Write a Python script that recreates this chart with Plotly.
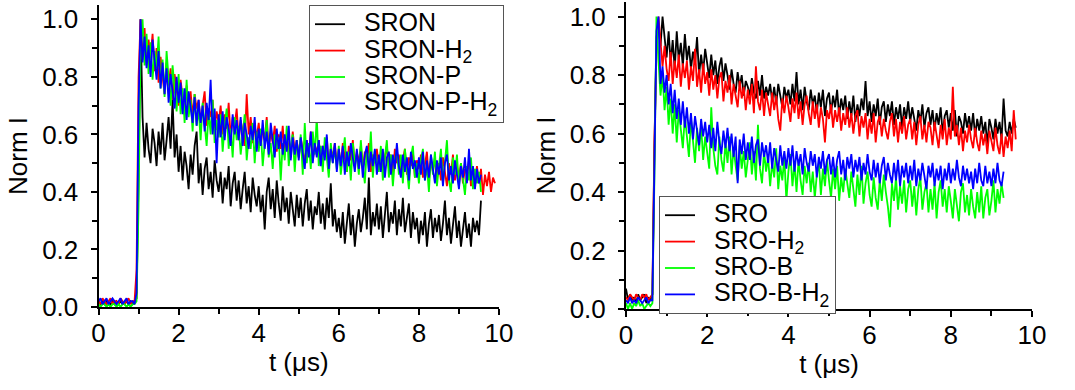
import plotly.graph_objects as go

# ---------------- data (sampled every DT microseconds, starting at t = 0) ----------------
DT = 0.05

sron = [0.02, 0.01, 0.02, 0.01, 0.02, 0.01, 0.01, 0.02, 0.01, 0.02, 0.01, 0.02, 0.01, 0.01, 0.02, 0.01, 0.02, 0.01, 0.02, 0.03,
        0.45, 1.00, 0.66, 0.52, 0.64, 0.55, 0.50, 0.62, 0.57, 0.49,
        0.61, 0.53, 0.64, 0.51, 0.58, 0.66, 0.55, 0.72, 0.52, 0.60,
        0.47, 0.56, 0.44, 0.54, 0.49, 0.41, 0.53, 0.46, 0.56, 0.61,
        0.43, 0.50, 0.39, 0.48, 0.52, 0.41, 0.47, 0.38, 0.51, 0.44,
        0.40, 0.47, 0.36, 0.45, 0.41, 0.49, 0.35, 0.43, 0.47, 0.37,
        0.44, 0.34, 0.41, 0.47, 0.36, 0.42, 0.33, 0.45, 0.39, 0.35,
        0.42, 0.33, 0.39, 0.27, 0.40, 0.45, 0.34, 0.41, 0.31, 0.44,
        0.36, 0.30, 0.42, 0.33, 0.38, 0.29, 0.40, 0.34, 0.28, 0.39,
        0.31, 0.38, 0.28, 0.36, 0.41, 0.30, 0.37, 0.27, 0.35, 0.32,
        0.40, 0.29, 0.36, 0.27, 0.38, 0.31, 0.43, 0.28, 0.34, 0.26,
        0.31, 0.24, 0.33, 0.22, 0.30, 0.36, 0.25, 0.32, 0.21, 0.29,
        0.34, 0.26, 0.31, 0.38, 0.27, 0.45, 0.25, 0.33, 0.28, 0.36,
        0.27, 0.35, 0.24, 0.32, 0.40, 0.26, 0.33, 0.29, 0.37, 0.25,
        0.34, 0.28, 0.38, 0.26, 0.32, 0.36, 0.24, 0.33, 0.27, 0.31,
        0.22, 0.30, 0.25, 0.33, 0.21, 0.29, 0.34, 0.24, 0.31, 0.26,
        0.32, 0.23, 0.29, 0.37, 0.25, 0.31, 0.22, 0.28, 0.35, 0.24,
        0.30, 0.21, 0.28, 0.33, 0.24, 0.29, 0.21, 0.31, 0.26, 0.30,
        0.25, 0.37]

sron_h2 = [0.02, 0.01, 0.03, 0.02, 0.01, 0.02, 0.03, 0.01, 0.02, 0.02, 0.01, 0.03, 0.02, 0.01, 0.02, 0.03, 0.01, 0.02, 0.02, 0.13,
           0.80, 1.00, 0.86, 0.97, 0.84, 0.93, 0.87, 0.95, 0.82, 0.90,
           0.78, 0.87, 0.80, 0.74, 0.85, 0.77, 0.83, 0.72, 0.81, 0.76,
           0.70, 0.79, 0.73, 0.67, 0.77, 0.70, 0.75, 0.66, 0.74, 0.69,
           0.72, 0.64, 0.70, 0.75, 0.63, 0.69, 0.66, 0.72, 0.62, 0.68,
           0.64, 0.70, 0.60, 0.67, 0.62, 0.71, 0.59, 0.66, 0.63, 0.69,
           0.58, 0.65, 0.61, 0.56, 0.74, 0.60, 0.66, 0.57, 0.63, 0.59,
           0.64, 0.56, 0.62, 0.58, 0.66, 0.55, 0.61, 0.57, 0.63, 0.54,
           0.60, 0.55, 0.63, 0.53, 0.59, 0.56, 0.52, 0.61, 0.54, 0.58,
           0.52, 0.59, 0.55, 0.50, 0.58, 0.53, 0.61, 0.51, 0.56, 0.54,
           0.58, 0.51, 0.56, 0.53, 0.59, 0.49, 0.55, 0.52, 0.57, 0.50,
           0.55, 0.49, 0.57, 0.52, 0.47, 0.56, 0.51, 0.58, 0.49, 0.54,
           0.50, 0.56, 0.48, 0.54, 0.51, 0.57, 0.47, 0.53, 0.50, 0.55,
           0.49, 0.54, 0.47, 0.52, 0.56, 0.48, 0.53, 0.46, 0.55, 0.50,
           0.53, 0.47, 0.51, 0.55, 0.46, 0.52, 0.49, 0.54, 0.45, 0.51,
           0.48, 0.53, 0.45, 0.50, 0.54, 0.44, 0.51, 0.47, 0.52, 0.45,
           0.50, 0.44, 0.52, 0.47, 0.42, 0.50, 0.46, 0.53, 0.44, 0.49,
           0.45, 0.50, 0.43, 0.48, 0.46, 0.51, 0.42, 0.47, 0.44, 0.49,
           0.43, 0.48, 0.39, 0.46, 0.42, 0.47, 0.40, 0.45, 0.43]

sron_p = [0.01, 0.00, 0.01, 0.01, 0.00, 0.01, 0.00, 0.01, 0.01, 0.00, 0.01, 0.00, 0.01, 0.01, 0.00, 0.01, 0.00, 0.01, 0.01, 0.02,
          0.35, 0.90, 1.00, 0.84, 0.95, 0.81, 0.92, 0.79, 0.89, 0.83,
          0.94, 0.76, 0.86, 0.73, 0.89, 0.78, 0.70, 0.84, 0.75, 0.68,
          0.81, 0.67, 0.76, 0.64, 0.79, 0.66, 0.72, 0.61, 0.74, 0.63,
          0.69, 0.58, 0.71, 0.62, 0.56, 0.68, 0.60, 0.72, 0.57, 0.65,
          0.59, 0.67, 0.54, 0.63, 0.69, 0.55, 0.62, 0.52, 0.66, 0.58,
          0.63, 0.53, 0.60, 0.67, 0.51, 0.59, 0.55, 0.64, 0.50, 0.61,
          0.54, 0.62, 0.49, 0.58, 0.65, 0.52, 0.57, 0.48, 0.60, 0.55,
          0.59, 0.44, 0.57, 0.51, 0.63, 0.49, 0.56, 0.60, 0.47, 0.58,
          0.52, 0.60, 0.46, 0.64, 0.50, 0.57, 0.48, 0.61, 0.53, 0.66,
          0.49, 0.56, 0.47, 0.59, 0.51, 0.45, 0.57, 0.50, 0.55, 0.48,
          0.56, 0.46, 0.53, 0.59, 0.47, 0.54, 0.44, 0.57, 0.50, 0.53,
          0.46, 0.58, 0.49, 0.43, 0.55, 0.48, 0.61, 0.45, 0.54, 0.50,
          0.47, 0.56, 0.44, 0.52, 0.58, 0.45, 0.53, 0.42, 0.51, 0.55,
          0.46, 0.53, 0.43, 0.55, 0.48, 0.41, 0.52, 0.56, 0.45, 0.50,
          0.43, 0.51, 0.55, 0.44, 0.49, 0.40, 0.53, 0.46, 0.54, 0.42,
          0.49, 0.55, 0.43, 0.50, 0.58, 0.44, 0.40, 0.52, 0.46, 0.53,
          0.42, 0.50, 0.45, 0.39, 0.49, 0.44, 0.52, 0.41, 0.48, 0.43,
          0.47, 0.40]

sron_p_h2 = [0.02, 0.03, 0.01, 0.02, 0.03, 0.01, 0.02, 0.03, 0.02, 0.01, 0.02, 0.03, 0.01, 0.02, 0.03, 0.01, 0.02, 0.02, 0.01, 0.05,
             0.70, 1.00, 0.85, 0.94, 0.83, 0.91, 0.80, 0.93, 0.86, 0.79,
             0.89, 0.76, 0.85, 0.74, 0.83, 0.71, 0.81, 0.75, 0.69, 0.80,
             0.71, 0.78, 0.67, 0.76, 0.65, 0.75, 0.69, 0.64, 0.73, 0.63,
             0.72, 0.64, 0.70, 0.61, 0.71, 0.65, 0.79, 0.60, 0.69, 0.50,
             0.67, 0.59, 0.68, 0.58, 0.66, 0.62, 0.56, 0.67, 0.60, 0.65,
             0.58, 0.66, 0.56, 0.64, 0.60, 0.55, 0.63, 0.58, 0.66, 0.54,
             0.62, 0.56, 0.65, 0.55, 0.61, 0.53, 0.64, 0.57, 0.52, 0.62,
             0.55, 0.61, 0.53, 0.60, 0.54, 0.63, 0.51, 0.59, 0.53, 0.58,
             0.51, 0.59, 0.54, 0.48, 0.58, 0.52, 0.61, 0.50, 0.57, 0.52,
             0.58, 0.49, 0.56, 0.51, 0.60, 0.48, 0.55, 0.50, 0.57, 0.47,
             0.55, 0.49, 0.56, 0.46, 0.54, 0.49, 0.57, 0.51, 0.47, 0.55,
             0.48, 0.54, 0.45, 0.53, 0.56, 0.47, 0.54, 0.49, 0.55, 0.46,
             0.53, 0.47, 0.55, 0.45, 0.52, 0.54, 0.46, 0.53, 0.48, 0.57,
             0.49, 0.45, 0.53, 0.47, 0.52, 0.44, 0.54, 0.48, 0.51, 0.45,
             0.52, 0.46, 0.54, 0.44, 0.51, 0.45, 0.53, 0.48, 0.43, 0.51,
             0.46, 0.52, 0.42, 0.50, 0.53, 0.44, 0.49, 0.43, 0.51, 0.46,
             0.41, 0.49, 0.45, 0.52, 0.43, 0.55, 0.44, 0.49, 0.41, 0.48,
             0.43, 0.46]

sro = [0.07, 0.03, 0.05, 0.03, 0.04, 0.02, 0.05, 0.03, 0.04, 0.05, 0.02, 0.04, 0.03, 0.05,
       0.55, 0.93, 0.97, 0.90, 1.00, 0.92,
       0.86, 0.95, 0.84, 0.92, 0.82, 0.95, 0.85, 0.91, 0.83, 0.94,
       0.85, 0.90, 0.82, 0.88, 0.84, 0.93, 0.80, 0.87, 0.81, 0.89,
       0.84, 0.79, 0.87, 0.80, 0.85, 0.77, 0.83, 0.86, 0.78, 0.84,
       0.80, 0.75, 0.82, 0.77, 0.74, 0.81, 0.76, 0.80, 0.73, 0.78,
       0.76, 0.73, 0.79, 0.74, 0.72, 0.78, 0.73, 0.80, 0.72, 0.76,
       0.73, 0.77, 0.71, 0.76, 0.70, 0.77, 0.73, 0.69, 0.76, 0.72,
       0.75, 0.70, 0.77, 0.71, 0.81, 0.70, 0.75, 0.68, 0.76, 0.71,
       0.68, 0.75, 0.70, 0.73, 0.67, 0.74, 0.69, 0.75, 0.66, 0.72,
       0.74, 0.67, 0.73, 0.69, 0.75, 0.66, 0.72, 0.68, 0.73, 0.65,
       0.71, 0.66, 0.73, 0.64, 0.70, 0.66, 0.72, 0.68, 0.78, 0.66,
       0.71, 0.64, 0.70, 0.66, 0.72, 0.63, 0.69, 0.71, 0.64, 0.70,
       0.66, 0.71, 0.63, 0.69, 0.65, 0.70, 0.62, 0.69, 0.65, 0.71,
       0.64, 0.69, 0.65, 0.61, 0.68, 0.64, 0.70, 0.62, 0.67, 0.69,
       0.63, 0.68, 0.61, 0.67, 0.63, 0.69, 0.60, 0.66, 0.68, 0.62,
       0.67, 0.61, 0.68, 0.59, 0.66, 0.64, 0.60, 0.67, 0.62, 0.66,
       0.61, 0.67, 0.59, 0.65, 0.61, 0.66, 0.60, 0.64, 0.56, 0.65,
       0.62, 0.58, 0.65, 0.60, 0.64, 0.58, 0.72, 0.61, 0.59, 0.64,
       0.60, 0.65, 0.62]

sro_h2 = [0.04, 0.03, 0.05, 0.04, 0.03, 0.05, 0.04, 0.03, 0.05, 0.04, 0.05, 0.03, 0.04, 0.05,
          0.57, 0.88, 1.00, 0.90, 0.83, 0.90,
          0.82, 0.78, 0.88, 0.77, 0.85, 0.79, 0.87, 0.76, 0.84, 0.79,
          0.85, 0.75, 0.83, 0.78, 0.89, 0.76, 0.82, 0.74, 0.84, 0.77,
          0.81, 0.73, 0.82, 0.75, 0.80, 0.72, 0.79, 0.81, 0.71, 0.78,
          0.74, 0.80, 0.70, 0.77, 0.73, 0.69, 0.78, 0.72, 0.76, 0.68,
          0.75, 0.70, 0.77, 0.67, 0.83, 0.71, 0.68, 0.75, 0.66, 0.74,
          0.70, 0.66, 0.74, 0.68, 0.73, 0.65, 0.61, 0.72, 0.67, 0.73,
          0.69, 0.64, 0.72, 0.67, 0.74, 0.65, 0.71, 0.63, 0.70, 0.73,
          0.67, 0.63, 0.71, 0.65, 0.70, 0.62, 0.69, 0.65, 0.57, 0.68,
          0.65, 0.70, 0.62, 0.68, 0.64, 0.69, 0.61, 0.67, 0.63, 0.69,
          0.62, 0.67, 0.60, 0.66, 0.68, 0.59, 0.66, 0.62, 0.67, 0.58,
          0.65, 0.60, 0.67, 0.57, 0.64, 0.66, 0.59, 0.65, 0.61, 0.58,
          0.64, 0.67, 0.59, 0.65, 0.57, 0.64, 0.60, 0.66, 0.58, 0.63,
          0.65, 0.58, 0.64, 0.56, 0.63, 0.66, 0.58, 0.63, 0.57, 0.64,
          0.62, 0.56, 0.64, 0.59, 0.55, 0.63, 0.58, 0.65, 0.56, 0.62,
          0.58, 0.76, 0.59, 0.63, 0.56, 0.62, 0.54, 0.61, 0.57, 0.63,
          0.58, 0.55, 0.62, 0.57, 0.54, 0.61, 0.56, 0.60, 0.53, 0.61,
          0.57, 0.54, 0.62, 0.56, 0.53, 0.60, 0.52, 0.59, 0.55, 0.61,
          0.54, 0.68, 0.58]

sro_b = [0.02, 0.00, 0.02, 0.00, 0.02, 0.01, 0.03, 0.01, 0.02, 0.00, 0.01, 0.02, 0.01, 0.02,
         0.45, 1.00, 0.85, 0.73, 0.80, 0.68,
         0.76, 0.63, 0.72, 0.60, 0.70, 0.57, 0.68, 0.61, 0.55, 0.66,
         0.60, 0.52, 0.65, 0.56, 0.50, 0.62, 0.54, 0.63, 0.51, 0.59,
         0.54, 0.48, 0.69, 0.55, 0.49, 0.46, 0.59, 0.51, 0.47, 0.57,
         0.50, 0.59, 0.46, 0.55, 0.49, 0.44, 0.56, 0.48, 0.54, 0.45,
         0.51, 0.57, 0.46, 0.54, 0.44, 0.63, 0.48, 0.43, 0.54, 0.47,
         0.52, 0.42, 0.50, 0.45, 0.55, 0.41, 0.49, 0.44, 0.52, 0.37,
         0.47, 0.53, 0.42, 0.50, 0.40, 0.51, 0.44, 0.39, 0.49, 0.43,
         0.50, 0.40, 0.47, 0.38, 0.46, 0.50, 0.39, 0.48, 0.42, 0.51,
         0.44, 0.38, 0.48, 0.41, 0.49, 0.37, 0.45, 0.40, 0.48, 0.42,
         0.38, 0.47, 0.40, 0.35, 0.46, 0.39, 0.49, 0.36, 0.43, 0.47,
         0.39, 0.35, 0.45, 0.38, 0.34, 0.44, 0.37, 0.46, 0.40, 0.35,
         0.28, 0.43, 0.37, 0.45, 0.34, 0.42, 0.36, 0.44, 0.33, 0.41,
         0.44, 0.35, 0.42, 0.32, 0.41, 0.45, 0.34, 0.40, 0.43, 0.33,
         0.41, 0.34, 0.43, 0.31, 0.40, 0.44, 0.35, 0.41, 0.33, 0.42,
         0.37, 0.31, 0.41, 0.35, 0.30, 0.40, 0.43, 0.33, 0.39, 0.32,
         0.41, 0.35, 0.31, 0.40, 0.33, 0.42, 0.31, 0.38, 0.41, 0.32,
         0.37, 0.44, 0.33, 0.41, 0.36, 0.43, 0.38]

sro_b_h2 = [0.03, 0.02, 0.04, 0.02, 0.03, 0.02, 0.04, 0.03, 0.02, 0.03, 0.04, 0.02, 0.03, 0.03,
            0.50, 0.95, 1.00, 0.77, 0.83, 0.74,
            0.80, 0.70, 0.77, 0.67, 0.75, 0.65, 0.72, 0.63, 0.71, 0.62,
            0.69, 0.60, 0.67, 0.58, 0.66, 0.60, 0.56, 0.65, 0.59, 0.64,
            0.57, 0.63, 0.55, 0.62, 0.54, 0.64, 0.57, 0.53, 0.61, 0.55,
            0.62, 0.54, 0.60, 0.52, 0.59, 0.43, 0.58, 0.53, 0.60, 0.51,
            0.57, 0.51, 0.59, 0.50, 0.56, 0.58, 0.49, 0.57, 0.52, 0.56,
            0.50, 0.57, 0.48, 0.55, 0.51, 0.47, 0.56, 0.49, 0.54, 0.48,
            0.55, 0.49, 0.56, 0.47, 0.54, 0.49, 0.53, 0.46, 0.55, 0.50,
            0.47, 0.54, 0.49, 0.53, 0.45, 0.52, 0.48, 0.54, 0.46, 0.51,
            0.53, 0.46, 0.52, 0.45, 0.51, 0.54, 0.46, 0.51, 0.44, 0.52,
            0.48, 0.53, 0.45, 0.51, 0.47, 0.52, 0.44, 0.50, 0.46, 0.53,
            0.47, 0.44, 0.51, 0.45, 0.50, 0.43, 0.49, 0.52, 0.44, 0.50,
            0.46, 0.43, 0.50, 0.44, 0.51, 0.42, 0.49, 0.45, 0.50, 0.43,
            0.49, 0.44, 0.51, 0.42, 0.48, 0.44, 0.50, 0.45, 0.41, 0.49,
            0.45, 0.50, 0.42, 0.48, 0.44, 0.49, 0.41, 0.48, 0.44, 0.50,
            0.43, 0.48, 0.44, 0.51, 0.45, 0.42, 0.49, 0.44, 0.48, 0.43,
            0.47, 0.41, 0.48, 0.43, 0.50, 0.44, 0.42, 0.49, 0.43, 0.47,
            0.42, 0.48, 0.43, 0.50, 0.44, 0.42, 0.47]

left_names = ["SRON", "SRON-H<sub>2</sub>", "SRON-P", "SRON-P-H<sub>2</sub>"]
right_names = ["SRO", "SRO-H<sub>2</sub>", "SRO-B", "SRO-B-H<sub>2</sub>"]
colors = ["#000000", "#ff0000", "#00ff00", "#0000ff"]
x_ticks = [0, 2, 4, 6, 8, 10]
y_ticks = [0.0, 0.2, 0.4, 0.6, 0.8, 1.0]

FONT = "Liberation Sans, Arial, sans-serif"


def times(vals):
    return [round(i * DT, 4) for i in range(len(vals))]


def label(name):
    # legend rows are spaced for an 18px font, the visible label is drawn larger
    return '<span style="font-size:25px">\u00a0\u00a0' + name + "</span>"


fig = go.Figure()
for name, vals, col in zip(left_names, [sron, sron_h2, sron_p, sron_p_h2], colors):
    fig.add_trace(go.Scatter(x=times(vals), y=vals, mode="lines", name=label(name),
                             line=dict(color=col, width=1.8), xaxis="x", yaxis="y",
                             legend="legend"))
for name, vals, col in zip(right_names, [sro, sro_h2, sro_b, sro_b_h2], colors):
    fig.add_trace(go.Scatter(x=times(vals), y=vals, mode="lines", name=label(name),
                             line=dict(color=col, width=1.8), xaxis="x2", yaxis="y2",
                             legend="legend2"))

tickfont = dict(family=FONT, size=26, color="#000")
titlefont = dict(family=FONT, size=26, color="#000")
common_x = dict(range=[0, 10], tickvals=x_ticks, ticks="outside", ticklen=6, tickwidth=1.5,
                tickcolor="#000", showline=True, linewidth=2, linecolor="#000",
                showgrid=False, zeroline=False, tickfont=tickfont, ticklabelstandoff=-4,
                automargin=False,
                minor=dict(dtick=1, ticks="outside", ticklen=5, tickcolor="#000", tickwidth=1.5),
                title=dict(text="t (μs)", font=titlefont, standoff=6))
common_y = dict(range=[0, 1.05], tickvals=y_ticks, tickformat=".1f", ticks="outside", ticklen=6,
                tickwidth=1.5, tickcolor="#000", showline=True, linewidth=2, linecolor="#000",
                showgrid=False, zeroline=False, tickfont=tickfont, ticklabelstandoff=7,
                automargin=False,
                minor=dict(dtick=0.1, ticks="outside", ticklen=5, tickcolor="#000", tickwidth=1.5),
                title=dict(text="Norm I", font=titlefont, standoff=7))

legend_common = dict(font=dict(family=FONT, size=18, color="#000"), bgcolor="#ffffff",
                     bordercolor="#555", borderwidth=1, xanchor="left")

fig.update_layout(
    width=1075, height=390,
    margin=dict(l=0, r=0, t=0, b=0),
    paper_bgcolor="#ffffff", plot_bgcolor="#ffffff",
    font=dict(family=FONT, color="#000"),
    xaxis=dict(domain=[98.5 / 1075, 499 / 1075], anchor="y", **common_x),
    yaxis=dict(domain=[83 / 390, 385 / 390], anchor="x", **common_y),
    xaxis2=dict(domain=[626 / 1075, 1032 / 1075], anchor="y2", **common_x),
    yaxis2=dict(domain=[81 / 390, 388 / 390], anchor="x2", **common_y),
    legend=dict(x=309 / 1075, y=385 / 390, yanchor="top", **legend_common),
    legend2=dict(x=659 / 1075, y=(390 - 196) / 390, yanchor="top", **legend_common),
)

fig.write_html("out.html")
